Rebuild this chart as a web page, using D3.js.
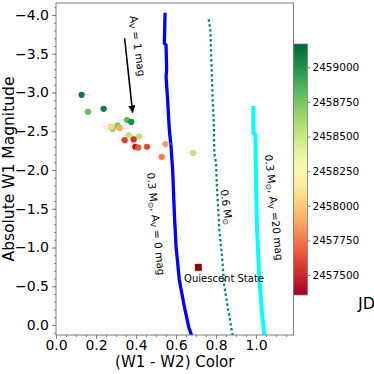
<!DOCTYPE html>
<html>
<head>
<meta charset="utf-8">
<script src="https://cdn.jsdelivr.net/npm/d3@7"></script>
<style>
  body { margin: 0; background: #fff; }
  svg { font-family: "DejaVu Sans", sans-serif; }
</style>
</head>
<body>
<div id="chart"></div>
<script>
// observed points: (W1 - W2) colour, absolute W1 magnitude, JD, x error
var pointColor = [0.128, 0.160, 0.238, 0.355, 0.376, 0.283, 0.308, 0.318, 0.275, 0.363, 0.415, 0.343, 0.388, 0.396, 0.411, 0.455, 0.547, 0.528, 0.685];
var pointMag = [-2.97, -2.75, -2.79, -2.645, -2.62, -2.53, -2.575, -2.54, -2.56, -2.45, -2.435, -2.385, -2.395, -2.30, -2.29, -2.30, -2.335, -2.17, -2.22];
var pointJD = [2459100, 2458800, 2459080, 2458830, 2459030, 2458650, 2458720, 2457900, 2458050, 2458540, 2458560, 2457580, 2457540, 2457440, 2457650, 2457600, 2457860, 2457760, 2458520];
var pointXerr = [0.04, 0.03, 0.03, 0.03, 0.03, 0.04, 0.04, 0.05, 0.05, 0.03, 0.03, 0.03, 0.03, 0.03, 0.03, 0.03, 0.03, 0.03, 0.03];

// model tracks
var track1Color = [0.545, 0.5415, 0.550, 0.553, 0.550, 0.558, 0.563, 0.5665, 0.575, 0.583, 0.5915, 0.600, 0.6165, 0.6415, 0.663, 0.678];
var track1Mag = [-4.03, -3.635, -3.613, -3.29, -3.204, -2.903, -2.667, -2.516, -2.30, -2.0, -1.441, -1.01, -0.581, -0.236, 0.022, 0.138];
var track2Color = [0.763, 0.7715, 0.775, 0.780, 0.783, 0.788, 0.7915, 0.800, 0.804, 0.8165, 0.830, 0.8415, 0.858, 0.883];
var track2Mag = [-3.945, -3.806, -3.506, -3.161, -2.903, -2.667, -2.215, -2.086, -1.794, -1.226, -0.881, -0.494, -0.236, 0.138];
var track3Color = [0.9865, 0.9865, 0.9965, 1.000, 1.005, 1.0165, 1.030, 1.0415];
var track3Mag = [-2.826, -2.477, -2.452, -1.785, -1.226, -0.581, -0.151, 0.138];

var quiescent = [0.7115, -0.744];

var xTicks = [0.0, 0.2, 0.4, 0.6, 0.8, 1.0];
var yTicks = [-4.0, -3.5, -3.0, -2.5, -2.0, -1.5, -1.0, -0.5, 0.0];
var jdTicks = [2457500, 2457750, 2458000, 2458250, 2458500, 2458750, 2459000];

var svg = d3.select("#chart").append("svg")
    .attr("width", 374)
    .attr("height", 374);

var x = d3.scaleLinear().domain([0, 1.187]).range([56, 293.5]);
var y = d3.scaleLinear().domain([-4.155, 0.129]).range([3, 335]);
var jdScale = d3.scaleLinear().domain([2457356, 2459168]).range([295, 44]);
var color = d3.scaleSequential(d3.interpolateRdYlGn).domain([2457356, 2459168]);

var gray = "#7f7f7f";

// minor ticks
var xMinor = d3.range(0, 1.19, 0.05);
var yMinor = d3.range(-4.1, 0.13, 0.1);

svg.append("g")
    .attr("transform", "translate(0,335)")
    .call(d3.axisBottom(x).tickValues(xMinor).tickSize(2).tickSizeOuter(0).tickFormat(""))
    .call(function (g) { g.select(".domain").remove(); g.selectAll("line").attr("stroke", gray); });
svg.append("g")
    .attr("transform", "translate(0,335)")
    .call(d3.axisBottom(x).tickValues(xTicks).tickSize(4).tickSizeOuter(0).tickPadding(1).tickFormat(d3.format(".1f")))
    .call(function (g) {
        g.select(".domain").remove();
        g.selectAll("line").attr("stroke", gray);
        g.selectAll("text").attr("font-size", 14).attr("fill", "#000").attr("font-family", "DejaVu Sans");
    });

svg.append("g")
    .attr("transform", "translate(56,0)")
    .call(d3.axisLeft(y).tickValues(yMinor).tickSize(2).tickSizeOuter(0).tickFormat(""))
    .call(function (g) { g.select(".domain").remove(); g.selectAll("line").attr("stroke", gray); });
svg.append("g")
    .attr("transform", "translate(56,0)")
    .call(d3.axisLeft(y).tickValues(yTicks).tickSize(4).tickSizeOuter(0).tickPadding(3).tickFormat(d3.format(".1f")))
    .call(function (g) {
        g.select(".domain").remove();
        g.selectAll("line").attr("stroke", gray);
        g.selectAll("text").attr("font-size", 14).attr("fill", "#000").attr("font-family", "DejaVu Sans");
    });

// clip to plot area
svg.append("clipPath").attr("id", "plotclip")
  .append("rect")
    .attr("x", 56).attr("y", 3)
    .attr("width", 237.5).attr("height", 332);

var plot = svg.append("g").attr("clip-path", "url(#plotclip)");

var line = d3.line()
    .x(function (d) { return x(d[0]); })
    .y(function (d) { return y(d[1]); });

plot.append("path")
    .datum(d3.zip(track1Color, track1Mag))
    .attr("d", line)
    .attr("fill", "none")
    .attr("stroke", "#0000ff")
    .attr("stroke-width", 3.3);

plot.append("path")
    .datum(d3.zip(track2Color, track2Mag))
    .attr("d", line)
    .attr("fill", "none")
    .attr("stroke", "#008080")
    .attr("stroke-width", 2.2)
    .attr("stroke-dasharray", "2.5,2.5");

plot.append("path")
    .datum(d3.zip(track3Color, track3Mag))
    .attr("d", line)
    .attr("fill", "none")
    .attr("stroke", "#00ffff")
    .attr("stroke-width", 4);

// error bars
var pts = d3.range(pointColor.length).map(function (i) {
    return {c: pointColor[i], m: pointMag[i], jd: pointJD[i], e: pointXerr[i]};
});

plot.selectAll("line.err")
    .data(pts)
    .enter()
    .append("line")
    .attr("class", "err")
    .attr("x1", function (d) { return x(d.c - d.e); })
    .attr("x2", function (d) { return x(d.c + d.e); })
    .attr("y1", function (d) { return y(d.m); })
    .attr("y2", function (d) { return y(d.m); })
    .attr("stroke", "#ffb0b0")
    .attr("stroke-opacity", 0.4)
    .attr("stroke-width", 1.5);

plot.selectAll("circle")
    .data(pts)
    .enter()
    .append("circle")
    .attr("cx", function (d) { return x(d.c); })
    .attr("cy", function (d) { return y(d.m); })
    .attr("r", 3.1)
    .attr("fill", function (d) { return color(d.jd); });

// quiescent state
plot.append("rect")
    .attr("x", x(quiescent[0]) - 3.5)
    .attr("y", y(quiescent[1]) - 3.5)
    .attr("width", 7)
    .attr("height", 7)
    .attr("fill", "#8b0a0a");

svg.append("text")
    .attr("x", x(0.64))
    .attr("y", y(-0.555))
    .attr("font-size", 10)
    .text("Quiescent State");

// extinction arrow
svg.append("defs").append("marker")
    .attr("id", "head")
    .attr("viewBox", "0 0 10 10")
    .attr("refX", 10).attr("refY", 5)
    .attr("markerWidth", 4.5).attr("markerHeight", 4.5)
    .attr("orient", "auto")
  .append("path")
    .attr("d", "M0,0 L10,5 L0,10 z")
    .attr("fill", "#000");

svg.append("line")
    .attr("x1", x(0.343)).attr("y1", y(-3.70))
    .attr("x2", x(0.383)).attr("y2", y(-2.74))
    .attr("stroke", "#000")
    .attr("stroke-width", 1.6)
    .attr("marker-end", "url(#head)");

// rotated labels
function rotLabel(cx, cy, angle, parts) {
    var px = x(cx), py = y(cy);
    var t = svg.append("text")
        .attr("transform", "translate(" + px + "," + py + ") rotate(" + angle + ")")
        .attr("text-anchor", "middle")
        .attr("dy", "0.35em")
        .attr("font-size", 10.5);
    parts.forEach(function (p) {
        var s = t.append("tspan").text(p.t);
        if (p.sub) s.attr("font-size", 7.5).attr("baseline-shift", "-25%");
    });
}

rotLabel(0.4075, -3.60, 82, [{t: "A"}, {t: "V", sub: true}, {t: " = 1 mag"}]);
rotLabel(0.500, -1.303, 84, [{t: "0.3 M"}, {t: "⊙", sub: true}, {t: ", A"}, {t: "V", sub: true}, {t: " = 0 mag"}]);
rotLabel(0.8525, -1.523, 82, [{t: "0.6 M"}, {t: "⊙", sub: true}]);
rotLabel(1.090, -1.516, 84, [{t: "0.3 M"}, {t: "⊙", sub: true}, {t: ", A"}, {t: "V", sub: true}, {t: " =20 mag"}]);

// frame
svg.append("rect")
    .attr("x", 56).attr("y", 3)
    .attr("width", 237.5).attr("height", 332)
    .attr("fill", "none")
    .attr("stroke", gray)
    .attr("stroke-width", 1);

// axis labels
svg.append("text")
    .attr("x", 174.75).attr("y", 367)
    .attr("text-anchor", "middle")
    .attr("font-size", 15)
    .text("(W1 - W2) Color");

svg.append("text")
    .attr("transform", "translate(14,169) rotate(-90)")
    .attr("text-anchor", "middle")
    .attr("font-size", 15.5)
    .text("Absolute W1 Magnitude");

// colorbar
var grad = svg.select("defs").append("linearGradient")
    .attr("id", "cbar")
    .attr("x1", 0).attr("y1", 1).attr("x2", 0).attr("y2", 0);
d3.range(0, 1.001, 0.05).forEach(function (t) {
    grad.append("stop")
        .attr("offset", t)
        .attr("stop-color", d3.interpolateRdYlGn(t));
});

svg.append("rect")
    .attr("x", 293.5).attr("y", jdScale(2459168))
    .attr("width", 14)
    .attr("height", jdScale(2457356) - jdScale(2459168))
    .attr("fill", "url(#cbar)")
    .attr("stroke", gray)
    .attr("stroke-width", 0.8);

svg.append("g")
    .attr("transform", "translate(307.5,0)")
    .call(d3.axisRight(jdScale).tickValues(jdTicks).tickSize(3).tickPadding(2).tickFormat(d3.format("d")))
    .call(function (g) {
        g.select(".domain").remove();
        g.selectAll("line").attr("stroke", gray);
        g.selectAll("text").attr("font-size", 10.5).attr("fill", "#000").attr("font-family", "DejaVu Sans");
    });

svg.append("text")
    .attr("x", 358).attr("y", 308.5)
    .attr("font-size", 16)
    .text("JD");
</script>
</body>
</html>
